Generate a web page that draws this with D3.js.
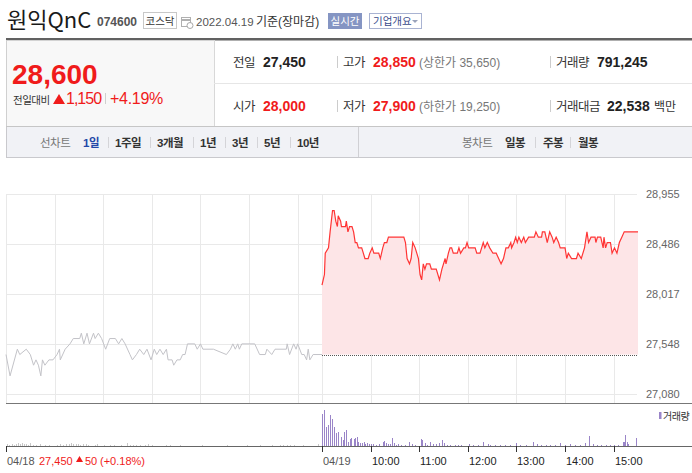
<!DOCTYPE html>
<html><head><meta charset="utf-8">
<script src="https://cdn.jsdelivr.net/npm/d3@7"></script>
<style>
html,body{margin:0;padding:0;background:#fff;}
svg{display:block;font-family:"Liberation Sans","Noto Sans CJK KR",sans-serif;}
</style></head><body>
<svg id="c" width="692" height="473"></svg>
<script>
// ---------- data ----------
const stockName = "원익QnC", stockCode = "074600", market = "코스닥";
const baseDate = "2022.04.19", baseNote = "기준(장마감)";
const curPrice = "28,600", changeAmt = "1,150", changePct = "+4.19%";
const infoRow1 = [["전일","27,450",false,""],["고가","28,850",true,"(상한가 35,650)"],["거래량","791,245",false,""]];
const infoRow2 = [["시가","28,000",true,""],["저가","27,900",true,"(하한가 19,250)"],["거래대금","22,538",false,"백만"]];
const lineTabs = ["1일","1주일","3개월","1년","3년","5년","10년"];
const candleTabs = ["일봉","주봉","월봉"];
const yTicks = [27080, 27548, 28017, 28486, 28955];
const prevClose = 27450;
const axisTickMinutes = [0, 390, 450, 510, 570, 630, 690, 750];
const axisTickLabels = ["04/18","04/19","10:00","11:00","12:00","13:00","14:00","15:00"];
const gridMinutes = [0,60,120,180,240,300,360,390,450,510,570,630,690,750];
const day1Summary = ["27,450","50","(+0.18%)"];
// day 1 (04/18): minutes after 09:00, price
const day1Minutes = [0,5,14,17,25,30,34,37,40,43,45,48,53,58,63,66,67,73,79,83,91,93,96,100,103,108,110,114,118,123,128,135,139,143,147,153,156,161,165,170,174,179,183,186,190,194,198,200,205,207,211,215,218,221,224,233,236,240,243,256,272,277,280,283,286,288,291,307,313,320,322,328,332,346,347,350,355,358,360,365,368,371,373,375,379,390];
const day1Prices = [27450,27250,27500,27450,27500,27450,27350,27400,27350,27250,
 27400,27350,27400,27400,27450,27500,27400,27500,27550,27600,
 27600,27650,27550,27650,27550,27650,27600,27650,27600,27500,
 27600,27600,27550,27600,27550,27450,27400,27450,27500,27450,
 27500,27400,27500,27450,27500,27450,27500,27400,27400,27350,
 27400,27400,27450,27450,27550,27550,27500,27550,27500,27500,
 27450,27500,27550,27500,27550,27500,27550,27550,27450,27450,
 27500,27450,27500,27500,27550,27450,27550,27500,27550,27450,
 27450,27400,27500,27400,27450,27450];
// day 2 (04/19)
const day2Minutes = [0,3,4,8,10,13,15,17,19,20,23,24,29,30,32,34,37,39,41,43,45,49,51,53,57,59,62,64,70,72,75,77,80,82,101,103,105,108,110,112,115,119,121,123,125,127,129,133,135,141,145,148,152,153,156,158,160,162,167,169,171,175,177,179,181,189,191,195,199,201,204,207,211,215,218,221,224,227,230,233,234,237,239,241,243,246,249,251,255,262,264,267,271,272,275,278,281,284,286,289,292,294,300,302,304,308,314,316,320,324,327,329,332,337,338,340,344,347,348,350,352,356,358,361,364,367,370,373,376,390];
const day2Prices = [28100,28200,28400,28450,28600,28800,28800,28700,28650,28750,
 28700,28650,28650,28700,28600,28650,28650,28600,28500,28500,
 28450,28450,28400,28350,28350,28400,28450,28400,28400,28350,
 28450,28500,28500,28550,28550,28500,28350,28300,28350,28500,
 28450,28350,28200,28150,28300,28250,28300,28300,28250,28250,
 28150,28250,28350,28300,28400,28450,28450,28400,28400,28450,
 28400,28450,28450,28500,28450,28450,28400,28400,28500,28450,
 28500,28450,28400,28400,28350,28300,28350,28450,28450,28500,
 28450,28500,28550,28500,28550,28500,28550,28500,28550,28550,
 28600,28550,28550,28600,28600,28500,28600,28550,28500,28550,
 28500,28450,28450,28350,28400,28350,28350,28400,28350,28450,
 28600,28500,28550,28550,28500,28550,28550,28450,28550,28450,
 28500,28500,28400,28450,28400,28500,28550,28600,28600,28600];
const day1VolMinutes = [1,4,7,10,12,15,17,20,22,25,27,30,33,37,42,48,53,63,67,70,74,78,80,83,86,89,91,95,99,101,110,112,121,128,133,142,149,153,157,160,165,172,175,180,197,202,215,242,273,297,313,328,338,342,347,350,356,367,385];
const day1Vol = [2000,1000,2000,1000,2000,3000,2000,3000,2000,2000,
 1000,3000,1000,1000,2000,1000,1000,1000,2000,1000,
 2000,2000,3000,2000,2000,2000,1000,2000,2000,1000,
 1000,2000,1000,1000,1000,1000,3000,1000,1000,1000,
 1000,1000,2000,1000,1000,1000,1000,1000,1000,1000,
 1000,1000,1000,1000,1000,1000,1000,1000,2000];
const day2VolMinutes = [0,3,5,7,10,12,15,17,20,23,26,27,30,32,34,36,39,41,43,45,47,49,52,53,56,58,61,63,67,70,75,77,79,82,84,87,89,91,94,98,102,107,111,115,122,124,127,130,133,137,141,145,148,150,154,158,164,168,172,181,186,192,199,205,207,214,220,226,232,239,244,252,261,265,270,276,281,288,294,300,306,312,318,325,330,335,339,344,350,355,360,365,371,373,374,376,378,388];
const day2Vol = [32000,36000,19000,21000,31000,27000,19000,13000,14000,9000,
 6000,14000,16000,4000,7000,8000,7000,8000,9000,4000,
 3000,3000,4000,2000,3000,2000,2000,2000,1000,2000,
 4000,5000,3000,2000,2000,8000,3000,1000,2000,1000,
 1000,4000,2000,1000,7000,6000,3000,1000,4000,2000,
 2000,3000,6000,3000,1000,1000,1000,1000,1000,2000,
 1000,1000,4000,2000,1000,1000,1000,1000,1000,3000,
 1000,1000,4000,2000,1000,1000,1000,1000,3000,1000,
 2000,1000,1000,3000,10000,2000,1000,1000,1000,1000,
 1000,1000,4000,4000,11000,4000,2000,8000];

// ---------- drawing ----------
const svg = d3.select("#c");
function t(x, y, s, o = {}) {
  const e = svg.append("text").attr("x", x).attr("y", y).text(s)
    .attr("font-size", o.size || 12).attr("fill", o.fill || "#333");
  if (o.weight) e.attr("font-weight", o.weight);
  if (o.anchor) e.attr("text-anchor", o.anchor);
  if (o.ls != null) e.attr("letter-spacing", o.ls);
  if (o.family) e.attr("font-family", o.family);
  return e;
}
function ln(x1, y1, x2, y2, c, w = 1) {
  return svg.append("line").attr("x1", x1).attr("y1", y1).attr("x2", x2).attr("y2", y2)
    .attr("stroke", c).attr("stroke-width", w).attr("shape-rendering", "crispEdges");
}
const RED = "#f01b1b";

// header
t(7, 28, stockName, {size: 22, fill: "#1a1a1a", family: "'Noto Sans CJK KR'"});
t(97, 26, stockCode, {size: 12, weight: "bold", fill: "#555"});
svg.append("rect").attr("x", 143.5).attr("y", 12.5).attr("width", 33).attr("height", 16)
  .attr("fill", "#fff").attr("stroke", "#c8c8c8");
t(160, 25, market, {size: 10.5, anchor: "middle", fill: "#333"});
// calendar icon
svg.append("rect").attr("x", 181.5).attr("y", 17.5).attr("width", 9).attr("height", 9).attr("fill", "none").attr("stroke", "#b0b0b0");
ln(181, 19.5, 191, 19.5, "#b0b0b0", 2);
svg.append("circle").attr("cx", 190).attr("cy", 25.5).attr("r", 3).attr("fill", "#fff").attr("stroke", "#a8a8a8");
t(196, 26, baseDate, {size: 11.5, fill: "#555"});
t(256, 26, baseNote, {size: 12, fill: "#333"});
svg.append("rect").attr("x", 328).attr("y", 13).attr("width", 34).attr("height", 16).attr("fill", "#8595c3");
t(345, 25, "실시간", {size: 10.5, anchor: "middle", fill: "#fff"});
svg.append("rect").attr("x", 369.5).attr("y", 13.5).attr("width", 52).attr("height", 15)
  .attr("fill", "#fff").attr("stroke", "#a9b3d2");
t(373, 25, "기업개요", {size: 10.5, fill: "#3a4c8c"});
svg.append("path").attr("d", "M412,20 L418,20 L415,23 Z").attr("fill", "#9aa3bb");

// info box
svg.append("rect").attr("x", 6).attr("y", 38).attr("width", 686).attr("height", 2.5).attr("fill", "#616161");
svg.append("rect").attr("x", 6).attr("y", 40.5).attr("width", 208).attr("height", 86).attr("fill", "#f8f8f8");
ln(6.5, 40, 6.5, 127, "#d0d0d0");
ln(214.5, 40, 214.5, 127, "#d8d8d8");
ln(214, 83.5, 692, 83.5, "#e6e6e6");
ln(6, 126.5, 692, 126.5, "#c6c6c6");
t(12, 84, curPrice, {size: 28, weight: "bold", fill: RED});
t(13, 104, "전일대비", {size: 10.5, fill: "#333", ls: -0.5});
svg.append("path").attr("d", "M53,104 L59,94 L65,104 Z").attr("fill", RED);
t(66, 104, changeAmt, {size: 16, fill: RED, ls: -1});
ln(105.5, 93, 105.5, 104, "#cfcfcf");
t(110, 104, changePct, {size: 16, fill: RED, ls: -0.3});

const colX = [[233, 263, 337.5], [343, 373, 550.5], [556, 597, 0]];
function infoRow(row, base) {
  row.forEach((r, i) => {
    const [lx, vx, sx] = colX[i];
    t(lx, base, r[0], {size: 12.5, fill: "#333", ls: -0.5});
    const vxx = (i === 2 && r[0].length > 3) ? 607 : vx;
    t(vxx, base, r[1], {size: 14, weight: "bold", fill: r[2] ? RED : "#222"});
    if (r[3]) {
      if (i === 1) t(419, base, r[3], {size: 12, fill: "#777"});
      else t(654, base, r[3], {size: 12, fill: "#333"});
    }
    if (sx) ln(sx, base - 11, sx, base + 1, "#cccccc");
  });
}
infoRow(infoRow1, 67);
infoRow(infoRow2, 111);

// tabs
svg.append("rect").attr("x", 6).attr("y", 127).attr("width", 686).attr("height", 30).attr("fill", "#f1f2f6");
ln(6.5, 127, 6.5, 157, "#c9c9cd");
ln(6, 157.5, 692, 157.5, "#c9c9cd");
ln(358.5, 127, 358.5, 157, "#d0d0d4");
t(40, 147, "선차트", {size: 11.5, fill: "#777", ls: -0.5});
const tabX = [83, 115, 157, 200, 232, 264, 297];
lineTabs.forEach((s, i) => {
  t(tabX[i], 147, s, {size: 11.5, weight: "bold", fill: i === 0 ? "#2348a8" : "#333", ls: -0.5});
  if (i < lineTabs.length - 1) ln(tabX[i + 1] - 6.5, 137, tabX[i + 1] - 6.5, 148, "#d4d4d8");
});
t(462, 147, "봉차트", {size: 11.5, fill: "#777", ls: -0.5});
const cTabX = [505, 543, 578];
candleTabs.forEach((s, i) => {
  t(cTabX[i], 147, s, {size: 11.5, weight: "bold", fill: "#333", ls: -0.5});
  if (i < candleTabs.length - 1) ln(cTabX[i + 1] - 7.5, 137, cTabX[i + 1] - 7.5, 148, "#d4d4d8");
});

// scales
const x = d3.scaleLinear().domain([0, 780]).range([6, 638]);
const y = d3.scaleLinear().domain([27080, 28955]).range([394, 194]);
const yv = d3.scaleLinear().domain([0, 36000]).range([446, 410]);

// gridlines
const g = svg.append("g");
yTicks.forEach(v => g.append("line").attr("x1", 6).attr("x2", 637)
  .attr("y1", Math.round(y(v)) + 0.5).attr("y2", Math.round(y(v)) + 0.5)
  .attr("stroke", "#e9e9e9").attr("shape-rendering", "crispEdges"));
gridMinutes.forEach(m => g.append("line").attr("x1", Math.round(x(m)) + 0.5).attr("x2", Math.round(x(m)) + 0.5)
  .attr("y1", 194).attr("y2", 403).attr("stroke", "#e9e9e9").attr("shape-rendering", "crispEdges"));

const d1 = day1Minutes.map((m, i) => [m, day1Prices[i]]);
const d2 = day2Minutes.map((m, i) => [390 + m, day2Prices[i]]);

// area (day 2) down to previous close
svg.append("path").datum(d2)
  .attr("d", d3.area().x(d => x(d[0])).y0(y(prevClose)).y1(d => y(d[1])))
  .attr("fill", "#fde5e7");
// prev close dotted
svg.append("line").attr("x1", x(390)).attr("x2", x(780) - 1)
  .attr("y1", Math.round(y(prevClose)) + 0.5).attr("y2", Math.round(y(prevClose)) + 0.5)
  .attr("stroke", "#555").attr("stroke-dasharray", "1,1").attr("shape-rendering", "crispEdges");
const lineGen = d3.line().x(d => x(d[0])).y(d => y(d[1]));
svg.append("path").datum(d1).attr("d", lineGen).attr("fill", "none").attr("stroke", "#c3c3c8").attr("stroke-width", 1);
svg.append("path").datum(d2).attr("d", lineGen).attr("fill", "none").attr("stroke", "#ff3535").attr("stroke-width", 1.2);

// y labels
yTicks.forEach(v => t(646, y(v) + 4, d3.format(",")(v), {size: 11, fill: "#666"}));

// separator
ln(6, 403.5, 692, 403.5, "#777", 1.5);

// volume bars
const vb = svg.append("g").attr("shape-rendering", "crispEdges");
day1VolMinutes.forEach((m, i) => vb.append("rect").attr("x", Math.round(x(m))).attr("width", 1)
  .attr("y", yv(day1Vol[i])).attr("height", 446 - yv(day1Vol[i])).attr("fill", "#c8c8c8"));
day2VolMinutes.forEach((m, i) => vb.append("rect").attr("x", Math.round(x(390 + m))).attr("width", 1)
  .attr("y", yv(day2Vol[i])).attr("height", 446 - yv(day2Vol[i])).attr("fill", "#9a85c8"));

// volume axis
ln(6, 446.5, 692, 446.5, "#666");
axisTickMinutes.forEach((m, i) => {
  const xx = Math.round(x(m)) + 0.5;
  ln(xx, 446, xx, 452, "#333");
  t(Math.round(x(m)) + 1, 465, axisTickLabels[i], {size: 11, fill: i < 2 ? "#555" : "#222"});
});
t(39, 465, day1Summary[0], {size: 11, fill: RED});
svg.append("path").attr("d", "M76,462 L79.5,456 L83,462 Z").attr("fill", RED);
t(85, 465, day1Summary[1], {size: 11, fill: RED});
t(100, 465, day1Summary[2], {size: 11, fill: RED});

// legend
svg.append("rect").attr("x", 659).attr("y", 412).attr("width", 2.5).attr("height", 7).attr("fill", "#9a85c8");
t(663, 420, "거래량", {size: 10, fill: "#333", ls: -0.5});
</script>
</body></html>
